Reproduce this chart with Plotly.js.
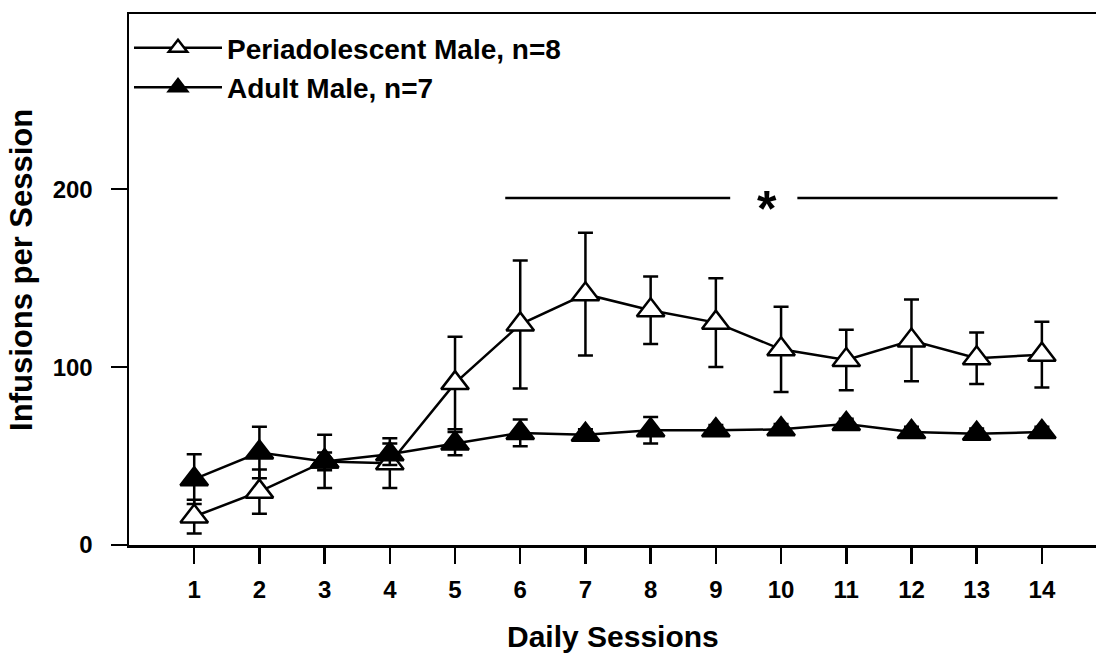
<!DOCTYPE html>
<html>
<head>
<meta charset="utf-8">
<script src="https://cdn.plot.ly/plotly-3.0.1.min.js"></script>
<style>html,body{margin:0;padding:0;background:#fff;}#chart{width:1096px;height:653px;}</style>
</head>
<body>
<div id="chart"></div>
<script>
// ---- data ----
const sessions = [1,2,3,4,5,6,7,8,9,10,11,12,13,14];
const periName = "Periadolescent Male, n=8";
const periMean = [16, 30, 47, 46, 91, 124, 141, 132, 125, 110, 104, 115, 105, 107];
const periSem  = [9.5, 12.5, 15, 14, 26, 36, 34.5, 19, 25, 24, 17, 23, 14.5, 18.5];
const adultName = "Adult Male, n=7";
const adultMean = [37, 52, 47, 51, 57, 63, 62, 64.5, 64.5, 65, 68, 63.5, 62.5, 63.5];
const adultSem  = [14, 14.5, 5, 6, 6.5, 7.5, 3, 7.5, 3, 3, 3, 3, 3, 3];
const xTitle = "Daily Sessions";
const yTitle = "Infusions per Session";
const yTicks = [0, 100, 200];
const sigLabel = "*";
const sigLevel = 195;
const sigLeft = [5.77, 9.22];
const sigRight = [10.25, 14.24];
const sigStarX = 9.78;

const font = "Liberation Sans, Arial, sans-serif";

const errStyle = {type: 'data', visible: true, color: '#000', thickness: 2.5, width: 7.5};

const traces = [
  {
    x: sessions, y: periMean, name: periName, type: 'scatter', mode: 'lines+markers',
    line: {color: '#000', width: 2.5},
    marker: {symbol: 'triangle-up', size: 24, color: '#fff', line: {color: '#000', width: 2.5}},
    error_y: Object.assign({array: periSem}, errStyle)
  },
  {
    x: sessions, y: adultMean, name: adultName, type: 'scatter', mode: 'lines+markers',
    line: {color: '#000', width: 2.5},
    marker: {symbol: 'triangle-up', size: 24, color: '#000', line: {color: '#000', width: 2.5}},
    error_y: Object.assign({array: adultSem}, errStyle)
  }
];

const layout = {
  width: 1096, height: 653,
  margin: {l: 129, r: 0, t: 14, b: 108},
  paper_bgcolor: '#fff', plot_bgcolor: '#fff',
  font: {family: font, color: '#000'},
  showlegend: true,
  legend: {
    x: 0.0, y: 0.983, xanchor: 'left', yanchor: 'top',
    font: {family: font, size: 28, weight: 'bold', color: '#000'},
    itemwidth: 88, bgcolor: 'rgba(0,0,0,0)', borderwidth: 0, tracegroupgap: 0
  },
  xaxis: {
    range: [0, 14.83], tickvals: sessions, ticktext: sessions.map(String),
    ticks: 'outside', ticklen: 16, tickwidth: 2.5, tickcolor: '#000',
    showline: true, linewidth: 2.5, linecolor: '#000', mirror: true,
    showgrid: false, zeroline: false, ticklabelstandoff: 6,
    tickfont: {family: font, size: 24, weight: 'bold', color: '#000'}
  },
  yaxis: {
    range: [0, 298.5], tickvals: yTicks, ticktext: yTicks.map(String),
    ticks: 'outside', ticklen: 16, tickwidth: 2.5, tickcolor: '#000',
    showline: true, linewidth: 2.5, linecolor: '#000',
    showgrid: false, zeroline: false, ticklabelstandoff: 13,
    tickfont: {family: font, size: 24, weight: 'bold', color: '#000'}
  },
  shapes: [
    {type: 'line', xref: 'x', yref: 'y', x0: sigLeft[0], x1: sigLeft[1], y0: sigLevel, y1: sigLevel, line: {color: '#000', width: 2.5}},
    {type: 'line', xref: 'x', yref: 'y', x0: sigRight[0], x1: sigRight[1], y0: sigLevel, y1: sigLevel, line: {color: '#000', width: 2.5}}
  ],
  annotations: [
    {xref: 'x', yref: 'y', x: sigStarX, y: sigLevel, text: sigLabel, showarrow: false,
     yshift: -11, font: {family: font, size: 50, weight: 'bold', color: '#000'}},
    {xref: 'paper', yref: 'paper', x: 0.5, y: 0, yshift: -91, text: xTitle, showarrow: false,
     xanchor: 'center', yanchor: 'middle', font: {family: font, size: 30, weight: 'bold', color: '#000'}},
    {xref: 'paper', yref: 'paper', x: -0.1107, y: 0.518, text: yTitle, showarrow: false, textangle: -90,
     xanchor: 'center', yanchor: 'middle', font: {family: font, size: 31, weight: 'bold', color: '#000'}}
  ]
};

Plotly.newPlot('chart', traces, layout, {displayModeBar: false, staticPlot: true});
</script>
</body>
</html>
